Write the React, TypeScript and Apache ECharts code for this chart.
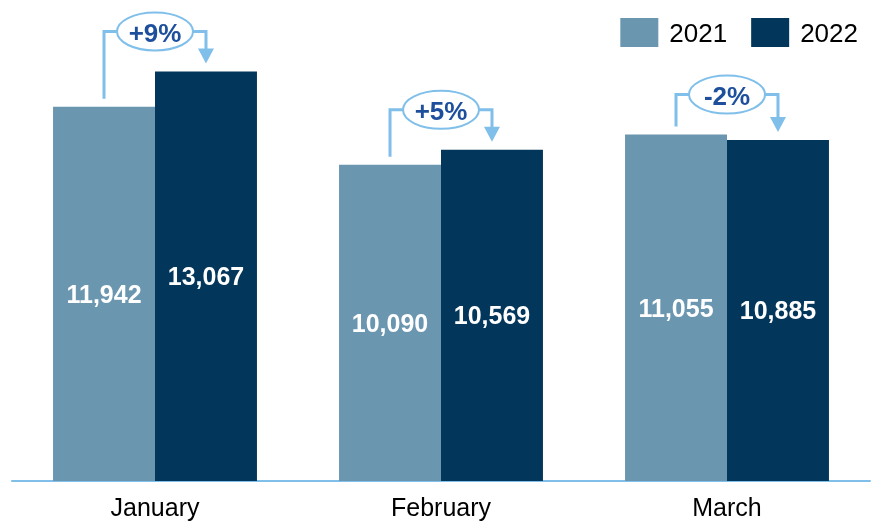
import React, { useEffect, useRef } from "react";
import * as echarts from "echarts";

const categories = ["January", "February", "March"];
const seriesNames = ["2021", "2022"];
const values2021 = [11942, 10090, 11055];
const values2022 = [13067, 10569, 10885];

const COLOR_2021 = "#6B96B0";
const COLOR_2022 = "#02365A";
const ACCENT = "#80BFEA";
const PCT_COLOR = "#1D4F9C";
const FONT = "Arial, 'Liberation Sans', sans-serif";

export default function App() {
  const ref = useRef<HTMLDivElement>(null);
  useEffect(() => {
    const chart = echarts.init(ref.current!, null, { renderer: "svg" });
    const fmt = (p: any) => Number(p.value).toLocaleString("en-US");
    const option: any = {
      animation: false,
      grid: { left: 12, right: 3, top: 11, bottom: 40 },
      legend: {
        data: seriesNames,
        right: 10,
        top: 13,
        itemWidth: 38,
        itemHeight: 29,
        itemGap: 24,
        icon: "rect",
        textStyle: { fontSize: 26, color: "#000", fontFamily: FONT, padding: [0, 0, 0, 6] },
      },
      xAxis: {
        type: "category",
        data: categories,
        axisTick: { show: false },
        axisLine: { lineStyle: { color: ACCENT, width: 2 } },
        axisLabel: { fontSize: 25, color: "#000", fontFamily: FONT, margin: 13 },
      },
      yAxis: { type: "value", min: 0, max: 15000, show: false, splitLine: { show: false } },
      series: [
        {
          name: seriesNames[0],
          type: "bar",
          data: values2021,
          barGap: "0%",
          barCategoryGap: "28.7%",
          itemStyle: { color: COLOR_2021 },
          label: { show: true, position: "inside", formatter: fmt, color: "#fff", fontWeight: "bold", fontSize: 25, fontFamily: FONT },
        },
        {
          name: seriesNames[1],
          type: "bar",
          data: values2022,
          barGap: "0%",
          barCategoryGap: "28.7%",
          itemStyle: { color: COLOR_2022 },
          label: { show: true, position: "inside", formatter: fmt, color: "#fff", fontWeight: "bold", fontSize: 25, fontFamily: FONT },
        },
      ],
    };
    chart.setOption(option);

    const model: any = (chart as any).getModel();
    const d0 = model.getSeriesByIndex(0).getData();
    const d1 = model.getSeriesByIndex(1).getData();
    const graphics: any[] = [];
    const rx = 38, ry = 19, gap = 8, rise = 40, arrowH = 15, arrowW = 16;
    categories.forEach((_, i) => {
      const l0 = d0.getItemLayout(i);
      const l1 = d1.getItemLayout(i);
      const x1 = l0.x + l0.width / 2;
      const x2 = l1.x + l1.width / 2;
      const top1 = Math.min(l0.y, l0.y + l0.height);
      const top2 = Math.min(l1.y, l1.y + l1.height);
      const yb = Math.min(top1, top2) - rise;
      const cx = (x1 + x2) / 2;
      const pct = Math.round(((values2022[i] - values2021[i]) / values2021[i]) * 100);
      const pctText = (pct > 0 ? "+" : "") + pct + "%";
      graphics.push({
        type: "polyline",
        shape: { points: [[x1, top1 - gap], [x1, yb], [cx - rx, yb]] },
        style: { stroke: ACCENT, lineWidth: 3, fill: null },
      });
      graphics.push({
        type: "polyline",
        shape: { points: [[cx + rx, yb], [x2, yb], [x2, top2 - gap - arrowH + 1]] },
        style: { stroke: ACCENT, lineWidth: 3, fill: null },
      });
      graphics.push({
        type: "polygon",
        shape: { points: [[x2 - arrowW / 2, top2 - gap - arrowH], [x2 + arrowW / 2, top2 - gap - arrowH], [x2, top2 - gap]] },
        style: { fill: ACCENT },
      });
      graphics.push({
        type: "ellipse",
        shape: { cx, cy: yb, rx, ry },
        style: { fill: "#fff", stroke: ACCENT, lineWidth: 2 },
      });
      graphics.push({
        type: "text",
        x: cx,
        y: yb + 1,
        style: { text: pctText, fill: PCT_COLOR, font: `bold 26px ${FONT}`, align: "center", verticalAlign: "middle" },
      });
    });
    chart.setOption({ graphic: graphics });
    return () => chart.dispose();
  }, []);
  return <div ref={ref} style={{ position: "fixed", left: 0, top: 0, width: 873, height: 521 }} />;
}
